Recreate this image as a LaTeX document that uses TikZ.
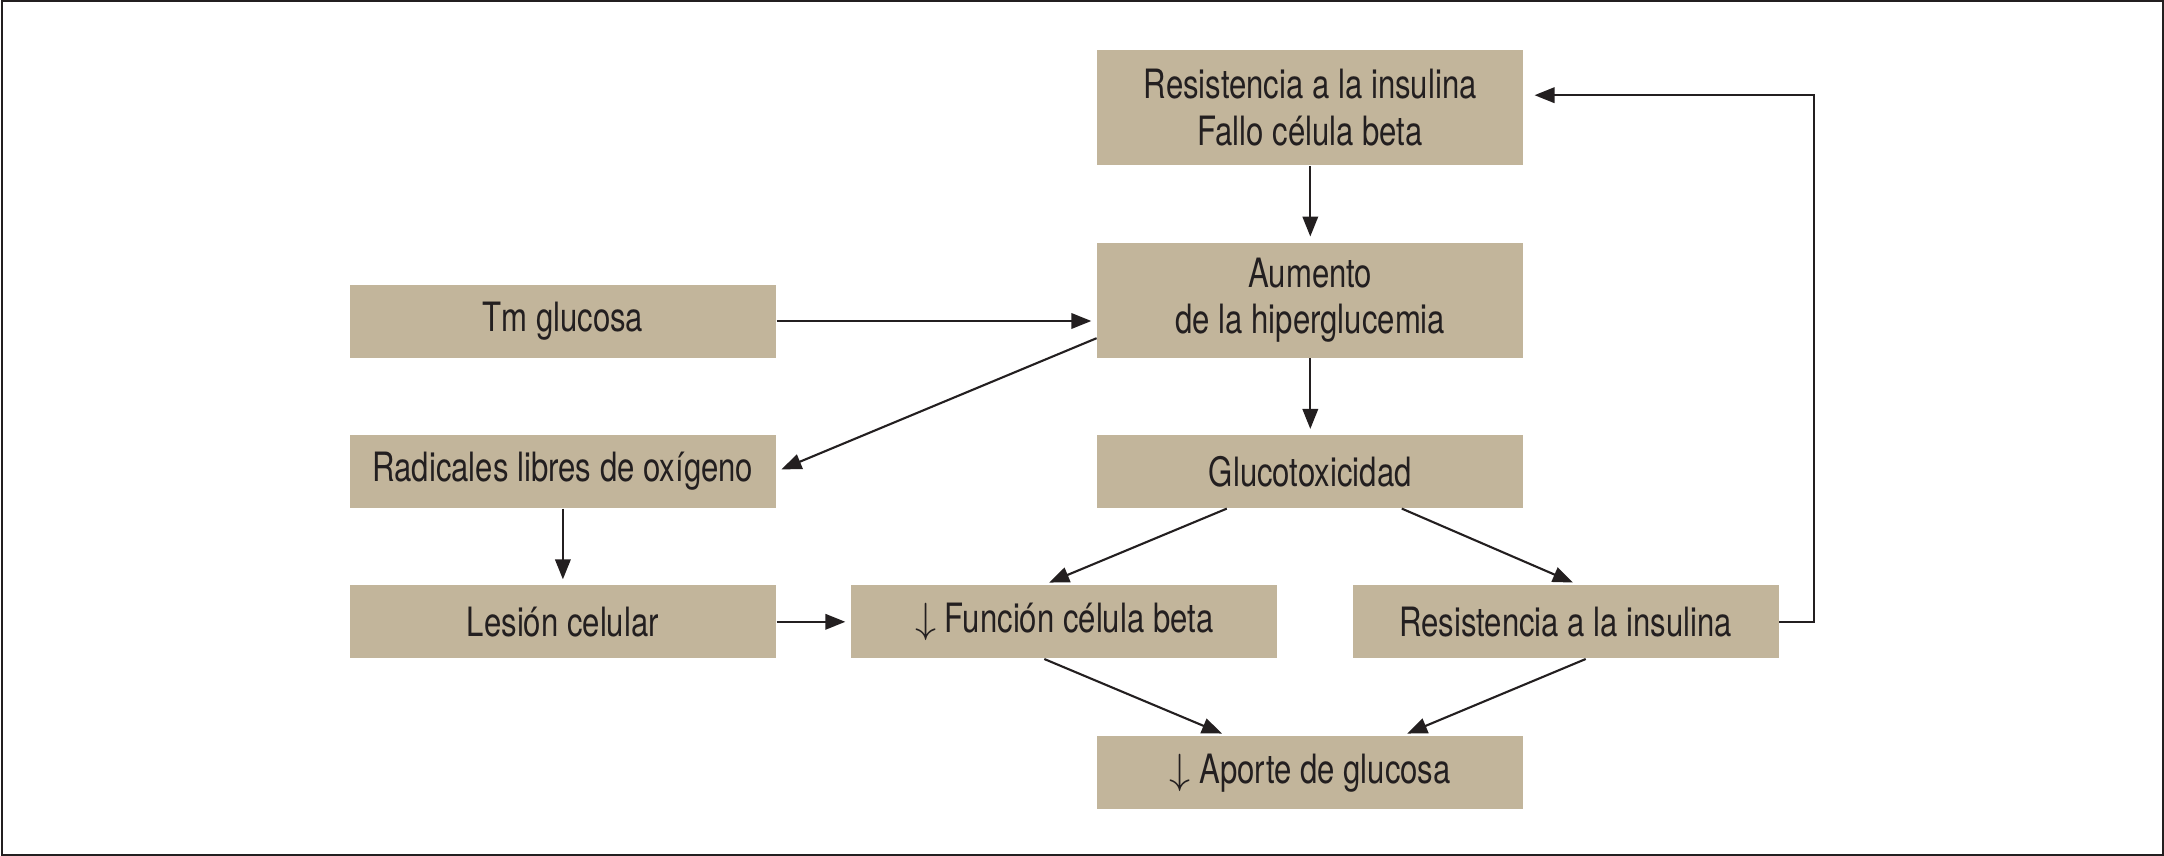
\documentclass[tikz,border=0pt]{standalone}
\usepackage{fontspec}
\setmainfont[FakeStretch=0.77]{TeX Gyre Heros}
\usetikzlibrary{positioning,arrows.meta,calc}
\definecolor{boxtan}{HTML}{C2B59B}
\definecolor{inkgray}{HTML}{231F20}

\begin{document}
\begin{tikzpicture}[
	node distance=0.76cm and 0.74cm,
	box/.style={fill=boxtan, text=inkgray, minimum width=4.26cm, minimum height=0.73cm, inner sep=0pt, align=center, font=\fontsize{11.5}{13.2}\selectfont},
	tall/.style={box, minimum height=1.15cm},
	arr/.style={draw=inkgray, line width=0.6pt, -{Triangle[length=2mm,width=1.55mm]}, shorten >=1.5pt}
	]
	\useasboundingbox (0,0) rectangle (21.64,-8.556);
	\draw[inkgray, line width=0.6pt] (0.02,-0.01) rectangle (21.63,-8.546);

	\node[tall] (ri1) at (13.103,-1.076) {Resistencia a la insulina\\Fallo célula beta};
	\node[tall, below=of ri1] (hg) {Aumento\\de la hiperglucemia};
	\node[box, below=of hg] (gt) {Glucotoxicidad};
	\node[box, left=3.2cm of gt] (rl) {Radicales libres de oxígeno};
	\node[box, anchor=south] (tm) at (rl.north |- hg.south) {Tm glucosa};
	\node[box, below=of rl] (lc) {Lesión celular};
	\node[box, right=of lc] (fb) {$\downarrow$ Función célula beta};
	\node[box, right=of fb] (ri2) {Resistencia a la insulina};
	\node[box, below=2.27cm of gt] (ag) {$\downarrow$ Aporte de glucosa};

	\draw[arr] (ri1.south) -- (hg.north);
	\draw[arr] (tm.east) -- (tm.east -| hg.west);
	\draw[arr] ($(hg.south west)+(0,0.2)$) -- (rl.east);
	\draw[arr] (hg.south) -- (gt.north);
	\draw[arr] ($(gt.south)+(-0.835,0)$) -- ($(fb.north)+(-0.2,0)$);
	\draw[arr] ($(gt.south)+(0.915,0)$) -- ($(ri2.north)+(0.12,0)$);
	\draw[arr] (rl.south) -- (lc.north);
	\draw[arr] (lc.east) -- (fb.west);
	\draw[arr] ($(fb.south)+(-0.2,0)$) -- ($(ag.north)+(-0.835,0)$);
	\draw[arr] ($(ri2.south)+(0.2,0)$) -- ($(ag.north)+(0.92,0)$);
	\draw[arr, shorten >=3pt] (ri2.east) -- ++(0.345,0) |- ($(ri1.east)+(0,0.124)$);
\end{tikzpicture}
\end{document}
